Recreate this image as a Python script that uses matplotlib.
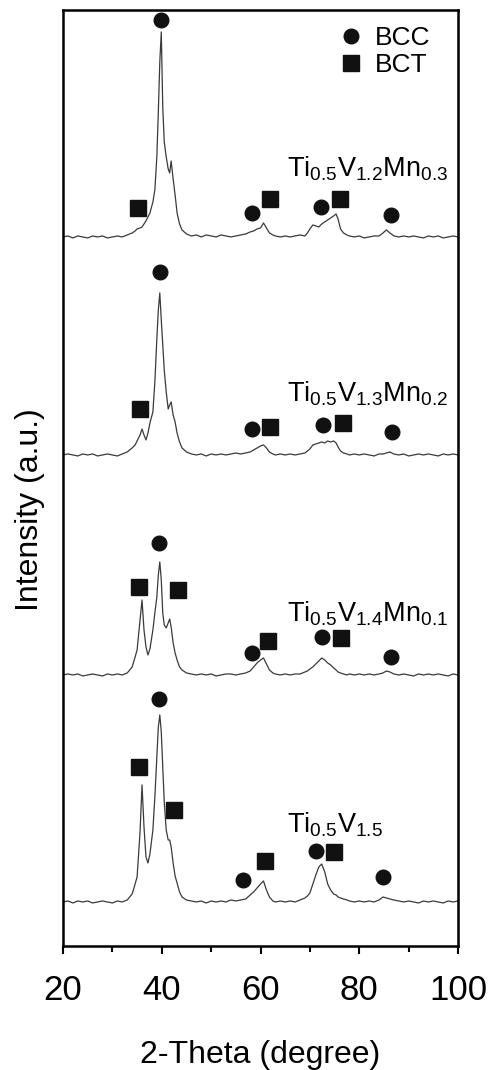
import matplotlib
matplotlib.use("Agg")
import matplotlib.pyplot as plt
from matplotlib.lines import Line2D

plt.rcParams["font.family"] = ["Liberation Sans", "DejaVu Sans"]
plt.rcParams["mathtext.default"] = "regular"

# 2-theta grid shared by all patterns (degrees)
two_theta = [20, 21, 22, 23, 24, 25, 26, 27, 28, 29, 30, 31, 32, 33, 34,
             34.6, 35, 35.6, 36, 36.4, 36.8, 37.2, 37.6, 38.2, 38.6, 39.0,
             39.3, 39.6, 39.9, 40.2, 40.5, 40.9, 41.3, 41.6, 41.9, 42.3,
             42.7, 43.1, 43.6, 44.1, 45, 46, 47, 48, 49, 50, 51, 52, 53, 54,
             55, 56, 57, 57.9, 58.6, 59.3, 60, 60.6, 61.2, 61.8, 62.5, 63,
             64, 65, 66, 67, 68, 69, 69.5, 70, 70.6, 71.2, 71.8, 72.4, 73,
             73.6, 74.2, 74.8, 75.3, 75.7, 76.2, 76.8, 77.5, 78, 79, 80, 81,
             82, 83, 84, 84.8, 85.5, 86.2, 87, 88, 89, 90, 91, 92, 93, 94,
             95, 96, 97, 98, 99, 100]

# intensity above each baseline (a.u.)
mn03 = [0, 1, -1, 1, 0, -1, 1, 0, 1, -1, 0, 1, 0, 2, 4,
        6, 8, 9, 10, 13, 16, 20, 24, 35, 47, 80,
        125, 175, 205, 130, 95, 80, 68, 64, 76, 58,
        42, 24, 13, 7, 3, 1, 2, 0, 2, 1, 0, 2, 1, 0,
        1, 2, 3, 5, 6, 8, 9, 14, 9, 4, 2, 1,
        0, 1, 0, 1, 2, 1, 4, 8, 12, 11, 10, 13, 15,
        17, 19, 21, 23, 18, 8, 4, 2, 1, 0, 1, -1,
        0, 1, 1, 4, 7, 4, 1, 0, 1, 0, 1, 0, -1, 1,
        0, 1, -1, 0, 1, 0]

mn02 = [0, 1, 0, -1, 1, 0, 1, -1, 0, 1, 0, -1, 1, 3, 7,
        10, 14, 20, 26, 20, 15, 22, 32, 43, 73, 116,
        145, 162, 135, 110, 85, 63, 46, 50, 53, 40,
        33, 22, 13, 7, 3, 1, 0, 1, -1, 1, 0, 1, 0, 1,
        2, 1, 2, 3, 5, 7, 9, 10, 7, 3, 1, 0,
        1, 0, 1, 0, 1, 2, 4, 6, 10, 11, 12, 13, 12,
        14, 13, 14, 12, 8, 4, 2, 1, 0, 1, 0, 1,
        0, -1, 1, 1, 2, 3, 1, 0, 1, -1, 0, 1, 0, 1,
        0, -1, 1, 0, 1, 0]

mn01 = [0, 1, 0, 1, -1, 0, 1, 0, -1, 1, 0, 1, 0, 2, 8,
        18, 25, 55, 75, 45, 28, 20, 26, 45, 62, 78,
        100, 113, 95, 62, 50, 47, 52, 56, 48, 32,
        22, 15, 8, 5, 2, 1, 0, 1, 0, 1, -1, 0, 1, 1,
        0, 1, 2, 4, 8, 12, 15, 17, 11, 5, 2, 1,
        0, 1, 0, 1, 1, 3, 4, 6, 8, 11, 14, 17, 15,
        12, 10, 7, 5, 3, 2, 1, 0, 1, 0, 1, 0,
        1, 0, 1, 2, 4, 3, 1, 0, 1, 0, -1, 1, 0, 1,
        0, 1, 0, -1, 1, 0]

v15 = [0, 1, -1, 1, 0, 1, -1, 0, 1, 0, -1, 1, 0, 2, 8,
       18, 25, 70, 117, 75, 45, 39, 48, 72, 105, 145,
       175, 187, 170, 135, 100, 72, 62, 62, 55, 39,
       26, 19, 10, 5, 2, 1, 0, 1, -1, 1, 0, 1, 0, 2,
       1, 2, 3, 7, 10, 14, 18, 21, 12, 5, 1, 0,
       1, 0, 1, 0, 2, 4, 6, 9, 18, 27, 35, 38, 30,
       18, 12, 8, 7, 5, 4, 3, 2, 1, 0, 1, 0,
       1, 0, 2, 5, 4, 3, 2, 1, 0, 1, 0, -1, 1, 0,
       1, 0, -1, 1, 0, 1]

patterns = [mn03, mn02, mn01, v15]
baselines = [709, 491, 271, 44]
labels = [r"Ti$_{0.5}$V$_{1.2}$Mn$_{0.3}$",
          r"Ti$_{0.5}$V$_{1.3}$Mn$_{0.2}$",
          r"Ti$_{0.5}$V$_{1.4}$Mn$_{0.1}$",
          r"Ti$_{0.5}$V$_{1.5}$"]
label_x = [65.3, 65.3, 65.3, 65.3]
label_y = [769, 544, 324, 113]

# phase markers (2-theta, height)
bcc_x = [39.8, 58.3, 72.2, 86.5,
         39.6, 58.2, 72.6, 86.6,
         39.5, 58.2, 72.4, 86.5,
         39.5, 56.4, 71.2, 84.8]
bcc_y = [926, 733, 739, 731,
         674, 517, 521, 514,
         403, 293, 309, 289,
         247, 66, 95, 69]
bct_x = [35.2, 61.9, 76.1,
         35.6, 61.9, 76.7,
         35.4, 43.3, 61.5, 76.2,
         35.4, 42.5, 60.9, 74.9]
bct_y = [738, 747, 747,
         537, 519, 523,
         359, 356, 305, 308,
         179, 136, 85, 94]

fig = plt.figure(figsize=(4.99, 10.70), dpi=100)
ax = fig.add_axes([0.1263, 0.1159, 0.7916, 0.8748])

for pat, base in zip(patterns, baselines):
    ax.plot(two_theta, [v + base for v in pat], color="#3a3a3a", lw=0.9)

for lab, lx, ly in zip(labels, label_x, label_y):
    ax.text(lx, ly, lab, fontsize=19.5, va="baseline", ha="left")

ax.plot(bcc_x, bcc_y, "o", color="#111111", ms=10.5, ls="none")
ax.plot(bct_x, bct_y, "s", color="#111111", ms=11, ls="none")

handles = [Line2D([], [], marker="o", color="#111111", ms=10.5, ls="none"),
           Line2D([], [], marker="s", color="#111111", ms=11, ls="none")]
ax.legend(handles, ["BCC", "BCT"], loc="upper left",
          bbox_to_anchor=(0.655, 0.997), frameon=False, fontsize=19,
          handletextpad=0.3, borderpad=0, labelspacing=0.12,
          handlelength=1.2)

ax.set_xlim(20, 100)
ax.set_ylim(0, 936)
ax.set_xticks([20, 40, 60, 80, 100])
ax.set_xticks([30, 50, 70, 90], minor=True)
ax.set_yticks([])
ax.tick_params(axis="x", which="major", direction="out", length=6,
               width=1.5, labelsize=25, pad=14)
ax.tick_params(axis="x", which="minor", direction="out", length=4,
               width=1.5)
for s in ax.spines.values():
    s.set_linewidth(1.8)

ax.set_xlabel("2-Theta (degree)", fontsize=23, labelpad=24)
ax.set_ylabel("Intensity (a.u.)", fontsize=23)
ax.yaxis.set_label_coords(-0.045, 0.466)

fig.savefig("out.png", dpi=100)
